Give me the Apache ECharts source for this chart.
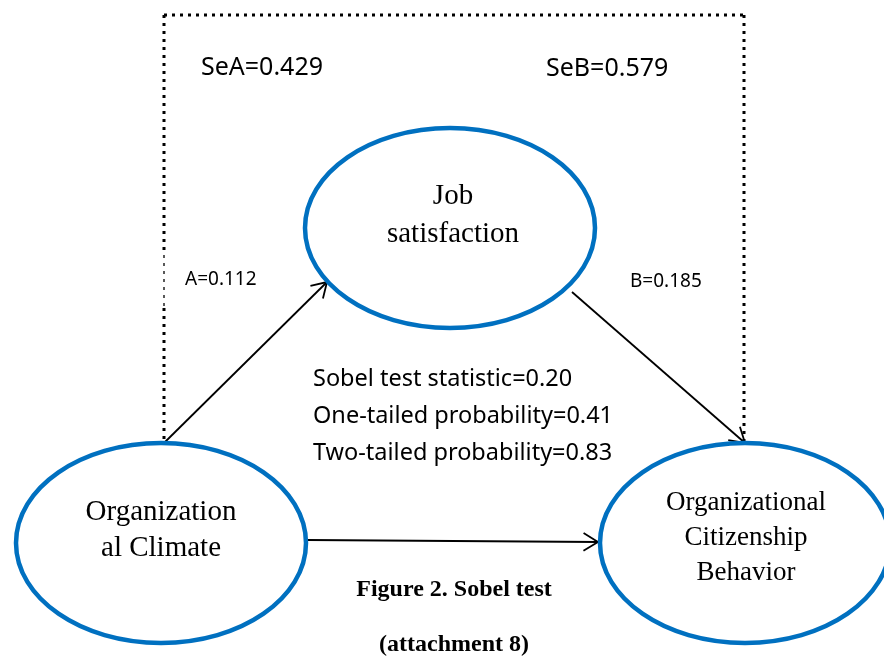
<!DOCTYPE html>
<html lang="en">
<head>
    <meta charset="UTF-8">
    <title>Sobel test</title>
    <script src="https://cdn.jsdelivr.net/npm/echarts@6/dist/echarts.min.js"></script>
    <style>html, body { margin: 0; padding: 0; background: #fff; }</style>
</head>
<body>
<div id="main" style="width: 884px;height:656px;"></div>

<script type="text/javascript">
    // variables shown in the ellipses
    var nodeNames = ['Job\nsatisfaction', 'Organization\nal Climate', 'Organizational\nCitizenship\nBehavior'];
    // paths: A = climate -> satisfaction, B = satisfaction -> OCB
    var pathNames = ['A', 'B'];
    var pathCoef = ['0.112', '0.185'];
    var pathSe = ['0.429', '0.579'];
    // Sobel test output
    var sobelNames = ['Sobel test statistic', 'One-tailed probability', 'Two-tailed probability'];
    var sobelValues = ['0.20', '0.41', '0.83'];
    var captionLines = ['Figure 2. Sobel test', '(attachment 8)'];

    // layout (canvas pixels)
    var nodePos = [[450, 228], [161, 543], [745, 543]];
    var nodeRadius = [145, 100];
    var nodeTextPos = [[453, 215], [161, 530], [746, 538]];
    var nodeFont = [29, 29, 27];
    var nodeLineH = [38, 36, 35];
    // arrow start/end points
    var arrowPts = [[165, 442, 327, 282], [572, 292, 745, 443], [308, 540, 598, 542]];
    // dotted frame segments [x1, y1, x2, y2, width]
    var frameSegs = [
        [164, 15, 744, 15, 3],
        [164, 15, 164, 255, 3],
        [164, 255, 164, 308, 1.3],
        [164, 308, 164, 442, 3],
        [744, 15, 744, 443, 3]
    ];
    var sePos = [[201, 68], [546, 69]];
    var coefPos = [[185, 280], [630, 282]];
    var sobelPos = [[313, 379], [313, 416], [313, 453]];
    var captionPos = [[454, 590], [454, 645]];

    var sansFont = '"Noto Sans", "Open Sans", sans-serif';
    var serifFont = '"Liberation Serif", "DejaVu Serif", serif';
    var blue = '#0070C0';

    var myChart = echarts.init(document.getElementById('main'));

    function textEl(api, p, str, font, align) {
        var c = api.coord(p);
        return {
            type: 'text',
            style: {
                text: str,
                x: c[0],
                y: c[1],
                font: font,
                fill: '#000',
                align: align || 'left',
                verticalAlign: 'middle'
            }
        };
    }

    var labelItems = [];
    pathNames.forEach(function (n, i) {
        labelItems.push({ t: 'Se' + n + '=' + pathSe[i], p: sePos[i], f: '25px ' + sansFont });
        labelItems.push({ t: n + '=' + pathCoef[i], p: coefPos[i], f: '19px ' + sansFont });
    });
    sobelNames.forEach(function (n, i) {
        labelItems.push({ t: n + '=' + sobelValues[i], p: sobelPos[i], f: '23.5px ' + sansFont });
    });
    captionLines.forEach(function (s, i) {
        labelItems.push({ t: s, p: captionPos[i], f: 'bold 24px ' + serifFont, a: 'center' });
    });

    var option = {
        animation: false,
        grid: { left: 0, right: 0, top: 0, bottom: 0 },
        xAxis: { type: 'value', min: 0, max: 884, show: false },
        yAxis: { type: 'value', min: 0, max: 656, inverse: true, show: false },
        series: [
            {
                // dotted frame
                type: 'custom',
                silent: true,
                clip: false,
                data: frameSegs,
                renderItem: function (params, api) {
                    var s = frameSegs[params.dataIndex];
                    var a = api.coord([s[0], s[1]]);
                    var b = api.coord([s[2], s[3]]);
                    return {
                        type: 'line',
                        shape: { x1: a[0], y1: a[1], x2: b[0], y2: b[1] },
                        style: { stroke: '#000', lineWidth: s[4], lineDash: [3, 5], lineCap: 'butt' }
                    };
                }
            },
            {
                // arrows
                type: 'custom',
                silent: true,
                clip: false,
                data: arrowPts,
                renderItem: function (params, api) {
                    var s = arrowPts[params.dataIndex];
                    var a = api.coord([s[0], s[1]]);
                    var b = api.coord([s[2], s[3]]);
                    var ang = Math.atan2(b[1] - a[1], b[0] - a[0]);
                    var len = 17, spread = 0.55;
                    var h1 = [b[0] - len * Math.cos(ang - spread), b[1] - len * Math.sin(ang - spread)];
                    var h2 = [b[0] - len * Math.cos(ang + spread), b[1] - len * Math.sin(ang + spread)];
                    return {
                        type: 'group',
                        children: [
                            {
                                type: 'line',
                                shape: { x1: a[0], y1: a[1], x2: b[0], y2: b[1] },
                                style: { stroke: '#000', lineWidth: 1.8 }
                            },
                            {
                                type: 'polyline',
                                shape: { points: [h1, b, h2] },
                                style: { stroke: '#000', lineWidth: 1.8, fill: null }
                            }
                        ]
                    };
                }
            },
            {
                // ellipses with variable names
                type: 'custom',
                silent: true,
                clip: false,
                data: nodeNames,
                renderItem: function (params, api) {
                    var i = params.dataIndex;
                    var c = api.coord(nodePos[i]);
                    var r = api.size(nodeRadius);
                    var t = api.coord(nodeTextPos[i]);
                    return {
                        type: 'group',
                        children: [
                            {
                                type: 'ellipse',
                                shape: { cx: c[0], cy: c[1], rx: r[0], ry: r[1] },
                                style: { stroke: blue, lineWidth: 4.5, fill: 'none' }
                            },
                            {
                                type: 'text',
                                style: {
                                    text: nodeNames[i],
                                    x: t[0],
                                    y: t[1],
                                    font: nodeFont[i] + 'px ' + serifFont,
                                    lineHeight: nodeLineH[i],
                                    fill: '#000',
                                    align: 'center',
                                    verticalAlign: 'middle'
                                }
                            }
                        ]
                    };
                }
            },
            {
                // text labels
                type: 'custom',
                silent: true,
                clip: false,
                data: labelItems.map(function (d) { return d.t; }),
                renderItem: function (params, api) {
                    var d = labelItems[params.dataIndex];
                    return textEl(api, d.p, d.t, d.f, d.a);
                }
            }
        ]
    };

    myChart.setOption(option);
</script>
</body>
</html>
